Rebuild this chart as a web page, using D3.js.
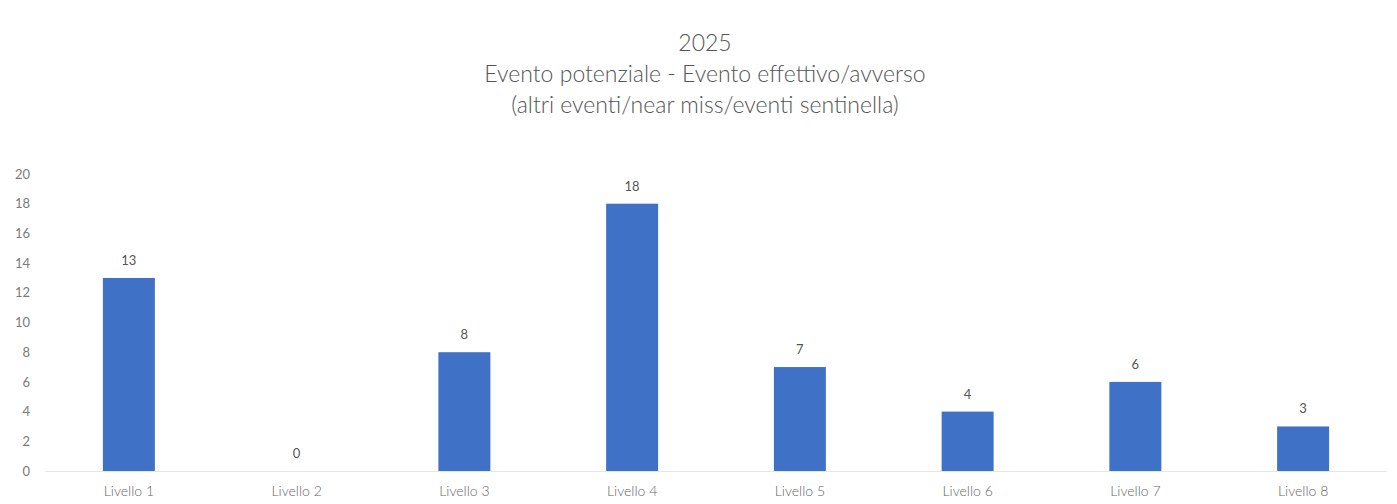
<!DOCTYPE html>
<html>
<head>
<meta charset="utf-8">
<script src="https://cdn.jsdelivr.net/npm/d3@7"></script>
<style>
  html, body { margin: 0; padding: 0; background: #ffffff; }
  svg { display: block; }
</style>
</head>
<body>
<svg id="chart" width="1397" height="504"></svg>
<script>
// Events by level, 2025
const titleLines = [
  "2025",
  "Evento potenziale - Evento effettivo/avverso",
  "(altri eventi/near miss/eventi sentinella)"
];
const categories = ["Livello 1", "Livello 2", "Livello 3", "Livello 4", "Livello 5", "Livello 6", "Livello 7", "Livello 8"];
const values = [13, 0, 8, 18, 7, 4, 6, 3];
const yTicks = [0, 2, 4, 6, 8, 10, 12, 14, 16, 18, 20];

const W = 1397, H = 504;
const margin = { top: 174, right: 10, bottom: 33, left: 45 };
const font = "Lato, 'Open Sans', sans-serif";

const svg = d3.select("#chart");

const x = d3.scaleBand()
  .domain(categories)
  .range([margin.left, W - margin.right])
  .paddingInner(0.69)
  .paddingOuter(0.345);

const y = d3.scaleLinear()
  .domain([0, 20])
  .range([H - margin.bottom, margin.top]);

// Title block
svg.append("g")
  .selectAll("text")
  .data(titleLines)
  .join("text")
  .attr("x", 705)
  .attr("y", (d, i) => 51 + i * 31)
  .attr("text-anchor", "middle")
  .attr("font-family", font)
  .attr("font-size", 23)
  .attr("font-weight", 300)
  .attr("fill", "#555555")
  .text(d => d);

// Y axis labels (no axis line)
const yAxis = d3.axisLeft(y).tickValues(yTicks).tickSize(0).tickPadding(0);
const gy = svg.append("g")
  .attr("transform", `translate(${margin.left - 15},0)`)
  .call(yAxis);
gy.select(".domain").remove();
gy.selectAll("text")
  .attr("font-family", font)
  .attr("font-size", 13)
  .attr("fill", "#7a7a7a");

// Baseline
svg.append("line")
  .attr("x1", margin.left)
  .attr("x2", W - margin.right)
  .attr("y1", y(0) + 0.5)
  .attr("y2", y(0) + 0.5)
  .attr("stroke", "#e6e6e6")
  .attr("stroke-width", 1);

// Bars
svg.append("g")
  .selectAll("rect")
  .data(values)
  .join("rect")
  .attr("x", (d, i) => x(categories[i]))
  .attr("y", d => y(d))
  .attr("width", x.bandwidth())
  .attr("height", d => y(0) - y(d))
  .attr("fill", "#3f72c6");

// Value labels
svg.append("g")
  .selectAll("text")
  .data(values)
  .join("text")
  .attr("x", (d, i) => x(categories[i]) + x.bandwidth() / 2)
  .attr("y", d => y(d) - 13)
  .attr("text-anchor", "middle")
  .attr("font-family", font)
  .attr("font-size", 13)
  .attr("fill", "#555555")
  .text(d => d);

// Category labels
const xAxis = d3.axisBottom(x).tickSize(0).tickPadding(0);
const gx = svg.append("g")
  .attr("transform", `translate(0,${y(0) + 15})`)
  .call(xAxis);
gx.select(".domain").remove();
gx.selectAll("text")
  .attr("dy", "0.71em")
  .attr("font-family", font)
  .attr("font-size", 14)
  .attr("font-weight", 300)
  .attr("fill", "#666666");
</script>
</body>
</html>
